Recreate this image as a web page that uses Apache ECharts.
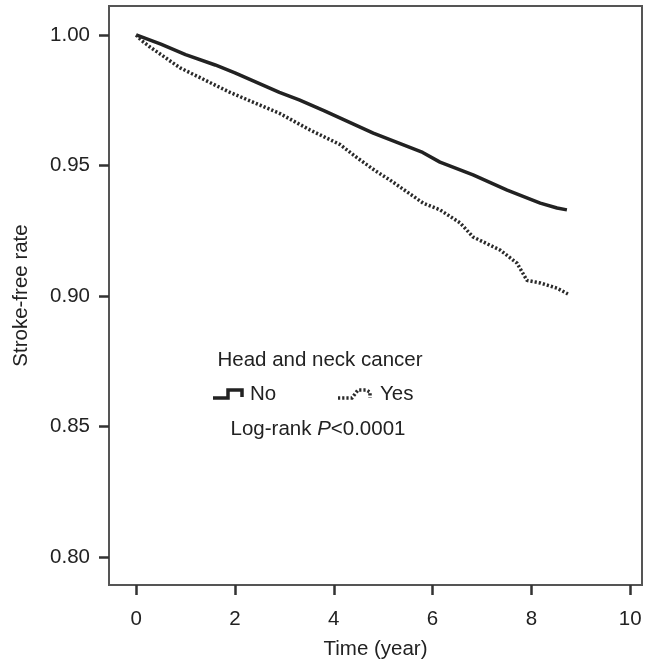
<!DOCTYPE html>
<html>
<head>
<meta charset="utf-8">
<script src="https://cdn.jsdelivr.net/npm/echarts@6/dist/echarts.min.js"></script>
<style>html,body{margin:0;padding:0;background:#fff}#c{width:647px;height:663px}</style>
</head>
<body>
<div id="c"></div>
<script>
const xTicks = [0, 2, 4, 6, 8, 10];
const yTicks = [0.80, 0.85, 0.90, 0.95, 1.00];
const tNo = [0, 0.5, 1, 1.6, 2, 2.9, 3.3, 3.8, 4.8, 5.8, 6.15, 6.82, 7.51, 8.18, 8.52, 8.72];
const sNo = [1.0, 0.9965, 0.9925, 0.9885, 0.9855, 0.978, 0.9751, 0.971, 0.9624, 0.955, 0.9513, 0.9464, 0.9406, 0.9356, 0.9337, 0.933];
const tYes = [0, 0.1, 0.28, 0.89, 1.9, 2.9, 3.52, 4.13, 4.47, 4.84, 5.14, 5.81, 6.15, 6.56, 6.82, 7.37, 7.71, 7.91, 8.18, 8.52, 8.74];
const sYes = [1.0, 0.998, 0.9954, 0.9874, 0.978, 0.970, 0.9636, 0.958, 0.953, 0.948, 0.9444, 0.9356, 0.933, 0.928, 0.9226, 0.9176, 0.9126, 0.906, 0.905, 0.903, 0.9008];

const FONT = 'Liberation Sans, Arial, sans-serif';
const FS = 20.5;
const chart = echarts.init(document.getElementById('c'));
const zip = (a, b) => a.map((v, i) => [v, b[i]]);
const txt = (x, y, text, align) => ({type: 'text', x: x, y: y, style: {text: text, fontSize: FS, fill: '#222', fontFamily: FONT, textAlign: align || 'left', textVerticalAlign: 'middle'}});
chart.setOption({
  animation: false,
  grid: {left: 109, top: 6, right: 5, bottom: 78, outerBoundsMode: 'none', containLabel: false, show: true, borderColor: '#555', borderWidth: 2, backgroundColor: 'transparent'},
  xAxis: {
    type: 'value', min: -0.55, max: 10.24,
    axisLine: {show: false, onZero: false}, splitLine: {show: false},
    axisTick: {show: true, customValues: xTicks, length: 10, lineStyle: {color: '#333', width: 2.5}},
    axisLabel: {customValues: xTicks, margin: 24, fontSize: FS, color: '#222', fontFamily: FONT},
    name: 'Time (year)', nameLocation: 'middle', nameGap: 54,
    nameTextStyle: {fontSize: FS, color: '#222', fontFamily: FONT}
  },
  yAxis: {
    type: 'value', min: 0.7893, max: 1.0111,
    axisLine: {show: false, onZero: false}, splitLine: {show: false},
    axisTick: {show: true, customValues: yTicks, length: 10, lineStyle: {color: '#333', width: 2.5}},
    axisLabel: {customValues: yTicks, margin: 19, fontSize: FS, color: '#222', fontFamily: FONT, formatter: v => v.toFixed(2)},
    name: 'Stroke-free rate', nameLocation: 'middle', nameGap: 77,
    nameTextStyle: {fontSize: FS, color: '#222', fontFamily: FONT}
  },
  series: [
    {name: 'No', type: 'line', data: zip(tNo, sNo), showSymbol: false, lineStyle: {color: '#222', width: 3.5}},
    {name: 'Yes', type: 'line', data: zip(tYes, sYes), showSymbol: false, lineStyle: {color: '#2a2a2a', width: 3.5, type: [2.2, 2], cap: 'butt'}}
  ],
  graphic: [
    txt(320, 360, 'Head and neck cancer', 'center'),
    {type: 'polyline', shape: {points: [[213, 398], [228, 398], [228, 390], [242, 390], [242, 397]]}, style: {stroke: '#222', lineWidth: 3.5, fill: null}},
    txt(250, 394, 'No'),
    {type: 'polyline', shape: {points: [[338, 398], [352, 398], [358, 390], [366, 390], [370, 392], [370, 398]]}, style: {stroke: '#2a2a2a', lineWidth: 3.5, lineDash: [2.2, 2], fill: null}},
    txt(380, 394, 'Yes'),
    {type: 'text', x: 318, y: 429, style: {text: '{a|Log-rank }{b|P}{a|<0.0001}', textAlign: 'center', textVerticalAlign: 'middle', rich: {a: {fontSize: FS, fontFamily: FONT, fill: '#222'}, b: {fontSize: FS, fontFamily: FONT, fontStyle: 'italic', fill: '#222'}}}}
  ]
});
</script>
</body>
</html>
